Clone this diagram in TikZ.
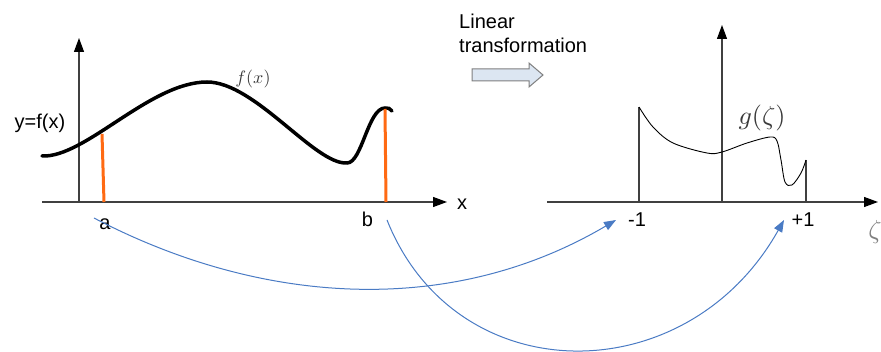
\documentclass[tikz,border=0pt]{standalone}
\usepackage{fontspec}
\setmainfont{Liberation Sans}
\usetikzlibrary{arrows.meta}
\definecolor{axisgray}{HTML}{404040}
\definecolor{orangeline}{HTML}{FF6A13}
\definecolor{bluearrow}{HTML}{4A7BC4}
\definecolor{blockfill}{HTML}{DCE6F2}
\definecolor{blockdraw}{HTML}{7F7F7F}
\definecolor{mathgray}{HTML}{3A3A3A}
\tikzset{
  axisline/.style={draw=axisgray, line width=1.2pt, -{Triangle[length=14pt,width=10pt,color=black]}},
  plainline/.style={draw=axisgray, line width=1.1pt},
  fcurve/.style={draw=black, line width=3.5pt, line cap=round},
  gcurve/.style={draw=black, line width=0.9pt},
  orangebar/.style={draw=orangeline, line width=3pt},
  maparrow/.style={draw=bluearrow, line width=1pt, -{Triangle[length=12pt,width=9pt]}},
  lbl/.style={inner sep=0pt, font=\fontsize{20}{24}\selectfont, text=black},
  mathlbl/.style={inner sep=0pt, text=mathgray, font=\normalsize},
  blockarrow/.style={draw=blockdraw, fill=blockfill, line width=1pt, line join=miter}
}
\begin{document}
\begin{tikzpicture}[x=1pt,y=-1pt]
\useasboundingbox (0,0) rectangle (881,352);

% ---------- left panel ----------
\draw[axisline] (42,202) -- (447,202);
\draw[axisline] (79,202) -- (79,38);
\draw[fcurve] (42,156) .. controls (85,158) and (150,82) .. (207,82)
  .. controls (255,82) and (315,165) .. (347,163)
  .. controls (362,163) and (368,108) .. (385,108)
  .. controls (388,107) and (390,109) .. (392,111);
\draw[orangebar] (102,134) -- (104,202);
\draw[orangebar] (385,109) -- (386,202);

\node[lbl, anchor=center] (yfx) at (40,123) {y=f(x)};
\node[mathlbl, anchor=center, scale=1.8] (fxl) at (253,79) {$f(x)$};
\node[lbl, anchor=base] (a) at (105,230) {a};
\node[lbl, anchor=base] (b) at (367.5,227) {b};
\node[lbl, anchor=base] (xl) at (462,210) {x};

% ---------- transformation arrow ----------
\node[lbl, anchor=base west] (lin) at (459,29) {Linear};
\node[lbl, anchor=base west] (trans) at (459,53) {transformation};
\draw[blockarrow] (472,69) -- (529,69) -- (529,63) -- (543,75) -- (529,87) -- (529,81) -- (472,81) -- cycle;

% ---------- right panel ----------
\draw[axisline] (547,202) -- (878,202);
\draw[axisline] (722,202) -- (722,25);
\draw[plainline] (639,202) -- (639,107);
\draw[plainline] (806,202) -- (806,160);
\draw[gcurve] plot[smooth, tension=0.55] coordinates {(639,107) (653,127) (673,143) (707,153) (722,152) (747,143) (770,137) (777,141) (781,160) (785,182) (792,185) (801,173) (806,160)};

\node[mathlbl, anchor=center, scale=2.6] (gl) at (762,118) {$g(\zeta)$};
\node[lbl, anchor=base] (m1) at (637,227) {-1};
\node[lbl, anchor=base] (p1) at (803,227) {+1};
\node[mathlbl, anchor=center, scale=2.6, text=gray] (zl) at (875,232) {$\zeta$};

% ---------- mapping arrows ----------
\coordinate (astart) at (94,218);
\coordinate (aend) at (616,220);
\coordinate (bstart) at (387,220);
\coordinate (bend) at (784,220);
\draw[maparrow] (astart) .. controls (260,305) and (450,318) .. (aend);
\draw[maparrow] (bstart) .. controls (456,393) and (687,393) .. (bend);
\end{tikzpicture}
\end{document}
